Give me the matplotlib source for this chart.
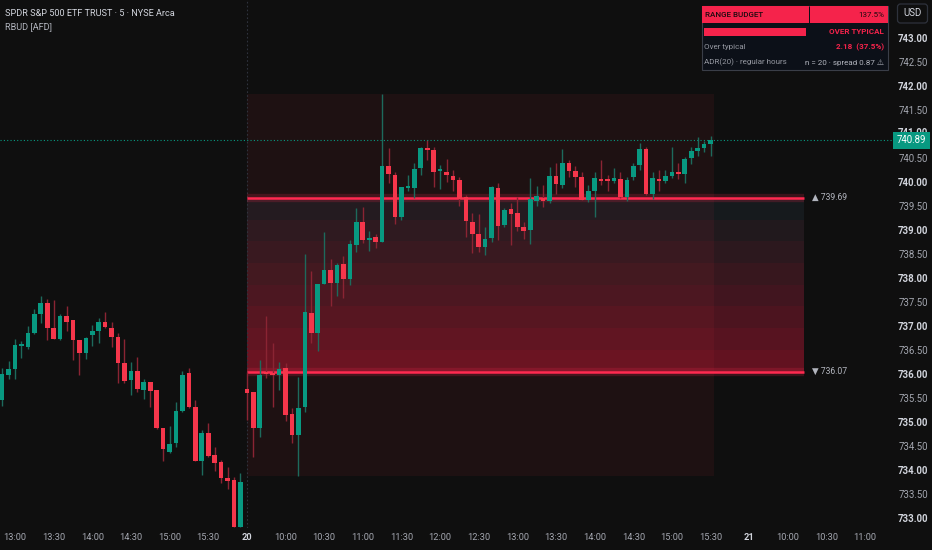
import matplotlib.pyplot as plt
import numpy as np
from matplotlib.patches import Rectangle, FancyBboxPatch
from matplotlib.transforms import blended_transform_factory

plt.rcParams['font.family'] = ['Roboto', 'DejaVu Sans']

# --- data: SPY 5-min bars, index 0 = 12:50 (day 19), index 38 = 9:30 (day 20) ---
opens = [
    # day 19
    735.48, 736.00, 736.12, 736.61, 736.59, 736.87, 737.27, 737.51, 736.97, 736.75,
    737.22, 737.14, 736.73, 736.45, 736.83, 736.92, 737.10, 736.98, 736.79, 736.25,
    735.89, 736.08, 735.69, 735.86, 735.69, 734.89, 734.40, 734.58, 735.24, 736.04,
    735.33, 734.20, 734.79, 734.33, 734.18, 733.85, 733.81, 732.84,
    # day 20
    735.70, 735.65, 734.89, 736.04, 736.04, 736.00, 736.14, 735.18, 734.74, 735.34,
    737.30, 736.87, 737.89, 738.19, 737.92, 738.31, 738.01, 738.70, 739.18, 738.81,
    738.87, 738.78, 740.36, 740.17, 739.29, 739.90, 739.90, 740.32, 740.72, 740.69,
    740.25, 740.23, 740.15, 740.06, 739.70, 739.18, 738.94, 738.67,
    738.85, 739.90, 739.13, 739.46, 739.38, 739.08, 739.02, 739.63, 739.69, 739.63,
    740.15, 739.96, 740.42, 740.26, 740.13, 739.65, 739.84, 740.08, 740.08, 740.05,
    740.08, 739.70, 740.12, 740.38, 740.71, 739.77, 740.08, 740.04, 740.15, 740.22,
    740.18, 740.53, 740.67, 740.72, 740.81,
]
highs = [
    736.14, 736.30, 736.75, 736.71, 737.02, 737.38, 737.65, 737.58, 737.56, 737.27,
    737.44, 737.14, 736.73, 736.79, 737.04, 737.18, 737.31, 737.10, 736.87, 736.74,
    736.27, 736.37, 735.91, 735.86, 735.69, 734.89, 734.94, 735.44, 736.09, 736.15,
    735.48, 734.85, 735.01, 734.49, 734.23, 734.08, 733.88, 733.95,
    736.07, 735.65, 736.31, 737.23, 736.66, 736.28, 736.24, 735.31, 735.95, 738.53,
    738.17, 737.89, 738.97, 738.41, 738.33, 738.48, 738.81, 739.47, 739.49, 739.00,
    738.94, 741.85, 740.72, 740.22, 739.92, 740.17, 740.41, 740.74, 740.90, 740.76,
    740.37, 740.51, 740.27, 740.12, 739.75, 739.37, 739.36, 739.08,
    739.94, 739.99, 739.47, 739.58, 739.70, 739.19, 740.11, 739.94, 739.96, 740.34,
    740.42, 740.71, 740.48, 740.35, 740.22, 739.96, 740.22, 740.48, 740.17, 740.31,
    740.22, 740.13, 740.42, 740.84, 740.76, 740.22, 740.27, 740.27, 740.74, 740.41,
    740.55, 740.76, 740.95, 740.87, 740.98,
]
lows = [
    735.35, 735.92, 735.92, 736.35, 736.54, 736.85, 737.08, 736.73, 736.75, 736.72,
    736.92, 736.31, 736.00, 736.33, 736.60, 736.67, 736.97, 736.59, 735.83, 735.84,
    735.58, 735.65, 735.51, 735.34, 734.87, 734.21, 734.38, 734.49, 735.22, 735.32,
    734.21, 733.92, 734.30, 734.00, 733.76, 733.63, 732.83, 732.83,
    735.06, 734.30, 734.70, 735.93, 735.34, 735.69, 735.05, 734.59, 733.90, 735.22,
    736.66, 736.49, 737.89, 737.44, 737.65, 737.60, 737.88, 738.57, 738.76, 738.58,
    738.65, 738.78, 740.01, 739.14, 739.22, 739.83, 739.68, 740.17, 740.48, 739.92,
    739.87, 740.03, 739.83, 739.52, 738.88, 738.55, 738.57, 738.51,
    738.78, 738.81, 739.09, 738.71, 738.99, 738.83, 738.73, 739.52, 739.51, 739.59,
    739.78, 739.89, 740.12, 739.92, 739.65, 739.61, 739.30, 739.96, 739.83, 740.01,
    739.68, 739.63, 740.06, 740.27, 739.75, 739.66, 739.84, 740.01, 740.11, 740.08,
    740.01, 740.39, 740.56, 740.65, 740.57,
]
closes = [
    736.02, 736.12, 736.63, 736.63, 736.88, 737.28, 737.50, 736.97, 736.76, 737.22,
    737.11, 736.73, 736.45, 736.77, 736.91, 737.10, 736.99, 736.80, 736.24, 735.88,
    736.08, 735.70, 735.85, 735.67, 734.89, 734.45, 734.56, 735.25, 736.01, 735.34,
    734.21, 734.79, 734.31, 734.17, 733.86, 733.80, 732.84, 733.77,
    735.63, 734.89, 735.99, 736.02, 735.99, 736.13, 735.17, 734.75, 735.31, 737.32,
    736.87, 737.89, 738.19, 737.92, 738.29, 738.00, 738.72, 739.19, 738.81, 738.83,
    738.78, 740.36, 740.18, 739.29, 739.92, 739.92, 740.30, 740.72, 740.69, 740.22,
    740.27, 740.17, 740.06, 739.67, 739.21, 738.93, 738.67, 738.83,
    739.92, 739.10, 739.44, 739.35, 739.08, 739.01, 739.66, 739.72, 739.63, 740.15,
    739.98, 740.42, 740.24, 740.12, 739.65, 739.84, 740.10, 740.05, 740.04, 740.10,
    739.70, 740.06, 740.36, 740.71, 739.77, 740.10, 740.04, 740.15, 740.22, 740.18,
    740.51, 740.67, 740.73, 740.81, 740.89,
]
session_start = 38          # first bar of day 20
band_end = 124.5            # zone projected into the future

time_labels = ['13:00', '13:30', '14:00', '14:30', '15:00', '15:30', '20',
               '10:00', '10:30', '11:00', '11:30', '12:00', '12:30', '13:00',
               '13:30', '14:00', '14:30', '15:00', '15:30', '21',
               '10:00', '10:30', '11:00']
time_pos = [2, 8, 14, 20, 26, 32, 38, 44, 50, 56, 62, 68, 74, 80, 86, 92,
            98, 104, 110, 116, 122, 128, 134]
price_ticks = [733.0, 733.5, 734.0, 734.5, 735.0, 735.5, 736.0, 736.5, 737.0,
               737.5, 738.0, 738.5, 739.0, 739.5, 740.0, 740.5, 741.0, 741.5,
               742.0, 742.5, 743.0]

upper_level = 739.69
lower_level = 736.07
last_price = 740.89
budget_pct = 137.5
over_amt = 2.18
over_pct = 37.5
adr_n = 20
spread = 0.87

BG = '#0f0f0f'
UP = '#089981'
DN = '#f5364b'
LINE = '#ff2a50'
TXT = '#d1d4dc'
GRAY = '#9598a1'

W, H = 932, 550
fig = plt.figure(figsize=(W / 100, H / 100), dpi=100, facecolor=BG)
ax = fig.add_axes([0, 22 / H, 888 / W, 528 / H])
ax.set_facecolor(BG)
ax.set_xlim(-0.33, 137.55)
ax.set_ylim(732.8125, 743.8125)
ax.axis('off')

o = np.array(opens)
h = np.array(highs)
l = np.array(lows)
c = np.array(closes)
idx = np.arange(len(o))

# gradient band between the two levels
n_str = 8
edges = np.linspace(upper_level, lower_level, n_str + 1)
top_rgb = np.array([0x16, 0x1a, 0x1d]) / 255
bot_rgb = np.array([0x62, 0x12, 0x20]) / 255
for k in range(n_str):
    t = k / (n_str - 1)
    col = top_rgb * (1 - t) + bot_rgb * t
    ax.add_patch(Rectangle((session_start, edges[k + 1]), band_end - session_start,
                           edges[k] - edges[k + 1], facecolor=col, lw=0, zorder=1))

# day-20 range box
day_hi = h[session_start:].max()
day_lo = l[session_start:].min()
ax.add_patch(Rectangle((session_start, day_lo), len(o) - 0.5 - session_start,
                       day_hi - day_lo, facecolor=DN, alpha=0.065, lw=0, zorder=1.5))

# session separator
ax.axvline(session_start, color='#2f333d', lw=0.8, ls=(0, (1.5, 2)), zorder=1.6)

# level lines with glow
for lvl in (upper_level, lower_level):
    ax.plot([session_start, band_end], [lvl, lvl], color=LINE, lw=6, alpha=0.18,
            solid_capstyle='butt', zorder=2)
    ax.plot([session_start, band_end], [lvl, lvl], color=LINE, lw=1.8,
            solid_capstyle='butt', zorder=2.1)
ax.text(band_end + 1.2, upper_level, '▲ 739.69', color='#b2b5be', fontsize=6.2,
        va='center', ha='left', zorder=5)
ax.text(band_end + 1.2, lower_level, '▼ 736.07', color='#b2b5be', fontsize=6.2,
        va='center', ha='left', zorder=5)

# candles
up = c >= o
cols = np.where(up, UP, DN)
wick_cols = np.where(up, '#1d6a5c', '#8a2433')
ax.vlines(idx, l, h, colors=wick_cols, lw=1.0, zorder=3)
body_lo = np.minimum(o, c)
body_h = np.maximum(np.abs(c - o), 0.04)
ax.bar(idx, body_h, bottom=body_lo, width=0.72, color=cols, lw=0, zorder=4)

# overlay axes in pixel coordinates
ov = fig.add_axes([0, 0, 1, 1], zorder=10)
ov.set_xlim(0, W)
ov.set_ylim(H, 0)
ov.axis('off')
ov.patch.set_alpha(0)

# last price line
y_last = (743.8125 - last_price) * 48
ov.plot([0, 893], [y_last, y_last], color=UP, lw=0.8, ls=(0, (1, 2)), zorder=1)

# price axis (741.00 sits partly hidden behind the last-price tag)
for p in price_ticks:
    yp = (743.8125 - p) * 48
    is_int = abs(p - round(p)) < 1e-9
    if p == 741.0:
        yp -= 2
    ov.text(913, yp, f'{p:.2f}', color=TXT if is_int else '#a3a6af',
            fontsize=6.9, fontweight='bold' if is_int else 'normal',
            ha='center', va='center')
ov.add_patch(Rectangle((893, y_last - 8), 37, 16.5, facecolor=UP, lw=0, zorder=3))
ov.text(911.5, y_last, f'{last_price:.2f}', color='white', fontsize=6.9,
        ha='center', va='center', zorder=4)

# time axis
tr = blended_transform_factory(ax.transData, ov.transData)
for pos, lab in zip(time_pos, time_labels):
    bold = lab in ('20', '21')
    ov.text(pos, 537, lab, transform=tr, color=TXT if bold else '#a3a6af',
            fontsize=6.7, fontweight='bold' if bold else 'normal',
            ha='center', va='center')

# header text
ov.text(5, 13, 'SPDR S&P 500 ETF TRUST · 5 · NYSE Arca', color=TXT, fontsize=6.6,
        ha='left', va='center')
ov.text(5, 27, 'RBUD [AFD]', color='#b2b5be', fontsize=6.6, ha='left', va='center')

# USD box
ov.add_patch(FancyBboxPatch((897.5, 4), 30, 19, boxstyle='round,pad=0,rounding_size=3',
                            facecolor=BG, edgecolor='#2e323c', lw=0.9))
ov.text(912.5, 13.5, 'USD', color=TXT, fontsize=7, ha='center', va='center')

# info table
TRED = '#f5234b'
FS = 5.8
ov.add_patch(Rectangle((702, 6), 186, 64, facecolor='#0c1018', edgecolor='#3a3e48', lw=0.8))
ov.add_patch(Rectangle((702, 6), 107, 17, facecolor=TRED, lw=0))
ov.add_patch(Rectangle((810, 6), 78, 17, facecolor=TRED, lw=0))
ov.text(705, 15, 'RANGE BUDGET', color='#1a0a0e', fontsize=FS, fontweight='medium',
        ha='left', va='center')
ov.text(884, 15, f'{budget_pct:.1f}%', color='#1a0a0e', fontsize=FS,
        ha='right', va='center')
ov.add_patch(Rectangle((704, 27.5), 102, 8.5, facecolor=TRED, lw=0))
ov.text(884, 31.5, 'OVER TYPICAL', color=TRED, fontsize=FS, fontweight='bold',
        ha='right', va='center')
ov.text(704, 47.5, 'Over typical', color=GRAY, fontsize=FS, ha='left', va='center')
ov.text(884, 47.5, f'{over_amt:.2f}  ({over_pct:.1f}%)', color=TRED, fontsize=FS,
        fontweight='bold', ha='right', va='center')
ov.text(704, 62.5, 'ADR(20) · regular hours', color=GRAY, fontsize=FS,
        ha='left', va='center')
ov.text(884, 62.5, f'n = {adr_n} · spread {spread:.2f} ⚠', color='#b2b5be',
        fontsize=FS, ha='right', va='center')

fig.savefig('out.png', dpi=100, facecolor=BG)
